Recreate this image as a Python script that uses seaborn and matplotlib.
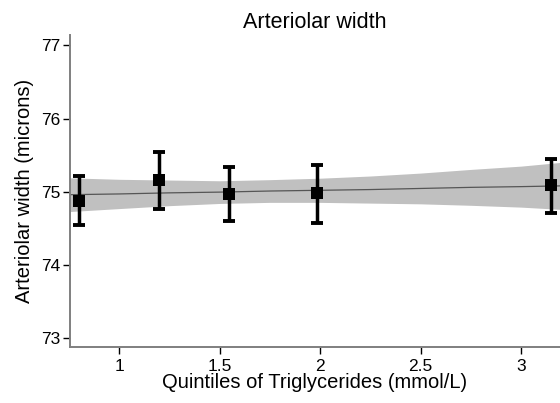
import matplotlib
matplotlib.use("Agg")
import matplotlib.pyplot as plt
import seaborn as sns
import pandas as pd

# Quintile means of triglycerides and the arteriolar width estimates (with 95% CI)
quintile_tg = [0.80, 1.20, 1.546, 1.985, 3.15]
width_mean = [74.88, 75.16, 74.97, 74.98, 75.09]
width_low = [74.55, 74.76, 74.60, 74.58, 74.71]
width_high = [75.22, 75.54, 75.34, 75.37, 75.45]

# Linear trend across triglycerides with its confidence band
trend_x = [0.756, 1.0, 1.25, 1.5, 1.75, 2.0, 2.25, 2.5, 2.75, 3.0, 3.194]
trend_y = [74.96, 74.97, 74.985, 74.995, 75.01, 75.02, 75.03, 75.045, 75.06, 75.07, 75.08]
band_low = [74.73, 74.77, 74.81, 74.84, 74.855, 74.855, 74.845, 74.835, 74.815, 74.79, 74.76]
band_high = [75.19, 75.17, 75.16, 75.15, 75.165, 75.185, 75.215, 75.255, 75.305, 75.35, 75.40]

x_ticks = [1, 1.5, 2, 2.5, 3]
x_tick_labels = ["1", "1.5", "2", "2.5", "3"]
y_ticks = [73, 74, 75, 76, 77]

sns.set_theme(style="ticks")
plt.rcParams["font.family"] = ["Liberation Sans", "DejaVu Sans"]

points = pd.DataFrame({"tg": quintile_tg, "width": width_mean,
                       "low": width_low, "high": width_high})
trend = pd.DataFrame({"tg": trend_x, "fit": trend_y, "lo": band_low, "hi": band_high})

fig = plt.figure(figsize=(5.6, 4.03), dpi=100)
ax = fig.add_axes([0.125, 0.139, 0.875, 0.774])

ax.fill_between(trend["tg"], trend["lo"], trend["hi"], color="#c0c0c0", lw=0, zorder=1)
sns.lineplot(data=trend, x="tg", y="fit", ax=ax, color="#555555", lw=0.9, zorder=2)

yerr = [points["width"] - points["low"], points["high"] - points["width"]]
ax.errorbar(points["tg"], points["width"], yerr=yerr, fmt="none", ecolor="black",
            elinewidth=2.5, capsize=4.5, capthick=2.8, zorder=3)
sns.scatterplot(data=points, x="tg", y="width", ax=ax, marker="s", s=78,
                color="black", edgecolor="black", linewidth=0, zorder=4)

ax.set_xlim(0.756, 3.194)
ax.set_ylim(72.88, 77.14)
ax.set_xticks(x_ticks)
ax.set_xticklabels(x_tick_labels)
ax.set_yticks(y_ticks)

ax.set_title("Arteriolar width", fontsize=15.5, color="black", pad=5)
ax.set_xlabel("Quintiles of Triglycerides (mmol/L)", fontsize=14.5, color="black", labelpad=-1)
ax.set_ylabel("Arteriolar width (microns)", fontsize=14.5, color="black", labelpad=5)

sns.despine(ax=ax)
for side in ["left", "bottom"]:
    ax.spines[side].set_color("#7f7f7f")
    ax.spines[side].set_linewidth(1.4)
ax.tick_params(axis="both", colors="black", labelsize=12.5, length=5, width=1.0, pad=2)
ax.tick_params(axis="x", pad=4)

fig.savefig("out.png", dpi=100)
